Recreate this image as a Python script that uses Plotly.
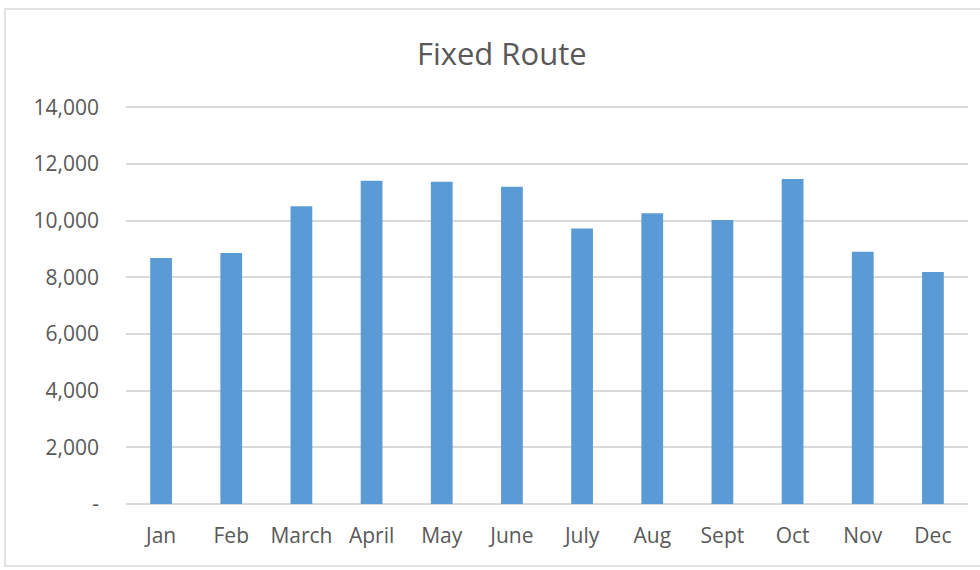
import plotly.graph_objects as go

months = ["Jan", "Feb", "March", "April", "May", "June", "July", "Aug", "Sept", "Oct", "Nov", "Dec"]
riders = [8677, 8854, 10511, 11404, 11369, 11192, 9721, 10264, 10018, 11464, 8899, 8183]
y_tickvals = [0, 2000, 4000, 6000, 8000, 10000, 12000, 14000]
y_ticktext = ["-", "2,000", "4,000", "6,000", "8,000", "10,000", "12,000", "14,000"]

FONT = "Open Sans"
TXT = "#595959"
GRID = "#d9d9d9"

fig = go.Figure(go.Bar(x=months, y=riders, marker=dict(color="#5B9BD5", line=dict(width=0))))

L, R, T, B = 126, 12, 103, 66
W, H = 980, 570
pw, ph = W - L - R, H - T - B

def px_x(p):
    return (p - L) / pw

def px_y(p):
    return (H - B - p) / ph

fig.update_layout(
    width=W, height=H,
    margin=dict(l=L, r=R, t=T, b=B),
    paper_bgcolor="white", plot_bgcolor="white",
    bargap=0.69,
    showlegend=False,
    title=dict(text="Fixed Route", x=0.512, xanchor="center", y=1 - 54 / H, yanchor="middle",
               font=dict(family=FONT, size=31, color=TXT)),
    font=dict(family=FONT, color=TXT),
    xaxis=dict(showgrid=False, showline=False, ticks="", tickfont=dict(size=21, color=TXT),
               ticklabelstandoff=17),
    yaxis=dict(range=[0, 14150], tickvals=y_tickvals, ticktext=y_ticktext,
               showgrid=True, gridcolor=GRID, gridwidth=1.5, zeroline=True, zerolinecolor=GRID,
               zerolinewidth=1.5, showline=False, ticks="", tickfont=dict(size=21, color=TXT),
               ticklabelstandoff=26),
    shapes=[dict(type="rect", xref="paper", yref="paper",
                 x0=px_x(5), x1=px_x(985), y0=px_y(566), y1=px_y(9),
                 line=dict(color=GRID, width=1.5), fillcolor="rgba(0,0,0,0)", layer="below")],
)

fig.write_html("out.html", config={"displayModeBar": False},
               post_script="document.body.style.margin='0';")
